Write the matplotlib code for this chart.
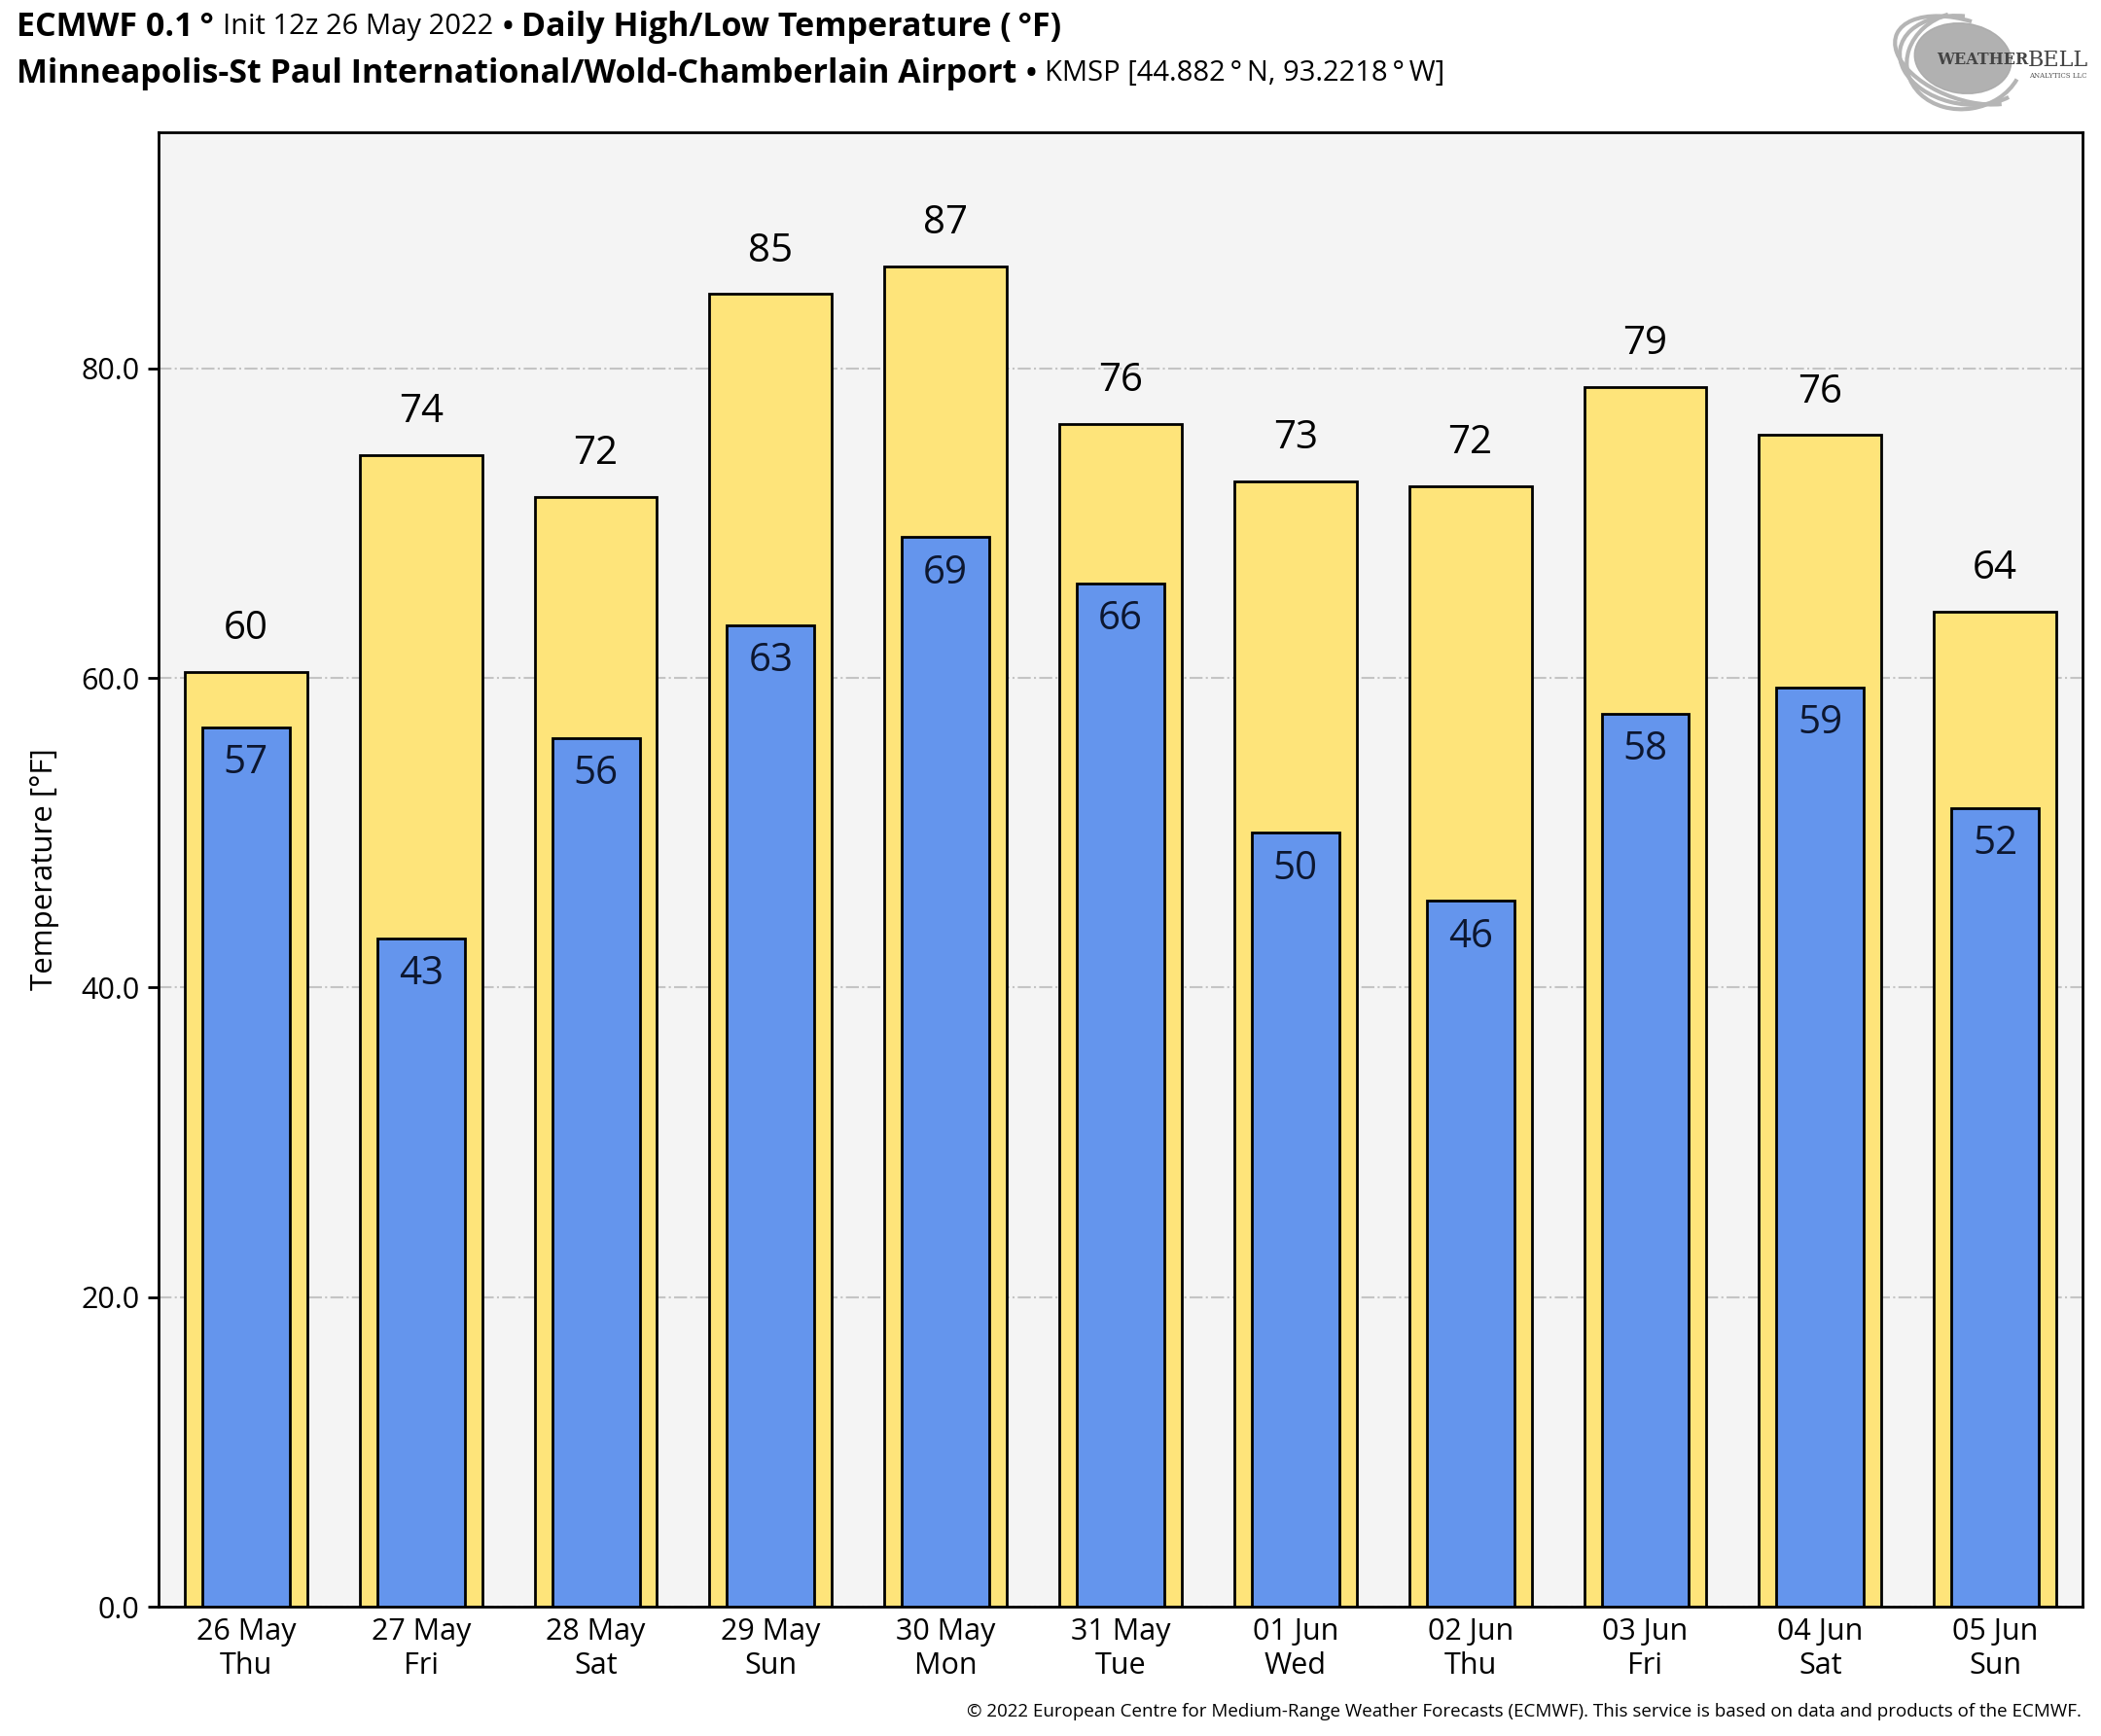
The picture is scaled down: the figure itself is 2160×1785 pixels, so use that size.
import matplotlib
matplotlib.use("Agg")
import matplotlib.pyplot as plt
from matplotlib.patches import Ellipse, Arc

days = ["26 May\nThu", "27 May\nFri", "28 May\nSat", "29 May\nSun", "30 May\nMon",
        "31 May\nTue", "01 Jun\nWed", "02 Jun\nThu", "03 Jun\nFri", "04 Jun\nSat",
        "05 Jun\nSun"]
highs = [60.4, 74.4, 71.7, 84.8, 86.6, 76.4, 72.7, 72.4, 78.8, 75.7, 64.3]
lows = [56.8, 43.2, 56.1, 63.4, 69.1, 66.1, 50.0, 45.6, 57.7, 59.4, 51.6]
yticks = [0, 20, 40, 60, 80]

plt.rcParams["font.family"] = ["Open Sans", "DejaVu Sans"]

W, H = 2160, 1785
fig = plt.figure(figsize=(W / 100, H / 100), dpi=100)
ax = fig.add_axes([163 / W, 1 - 1652 / H, (2141 - 163) / W, (1652 - 136) / H])
ax.set_facecolor("#f4f4f4")

x = list(range(len(days)))
ax.bar(x, highs, width=0.7, color="#fee47a", edgecolor="black", linewidth=2, zorder=2)
ax.bar(x, lows, width=0.5, color="#6495ed", edgecolor="black", linewidth=2, zorder=3)

for i in x:
    ax.annotate(f"{highs[i]:.0f}", (i, highs[i]), xytext=(0, 44), textcoords="offset pixels",
                ha="center", va="center", fontsize=29, zorder=4)
    ax.annotate(f"{lows[i]:.0f}", (i, lows[i]), xytext=(0, -37), textcoords="offset pixels",
                ha="center", va="center", fontsize=29, color="#0d1730", zorder=4)

ax.set_xlim(-0.5, len(days) - 0.5)
ax.set_ylim(0, max(highs) * 1.1)
ax.set_yticks(yticks)
ax.set_yticklabels([f"{v:.1f}" for v in yticks])
ax.set_xticks(x)
ax.set_xticklabels(days, linespacing=1.2)
ax.tick_params(axis="x", length=0, labelsize=22, pad=8)
ax.tick_params(axis="y", length=8, width=2, labelsize=22, pad=6)
ax.yaxis.grid(True, linestyle="-.", color="#c4c4c4", linewidth=1.5, zorder=1)
ax.set_axisbelow(True)
for sp in ax.spines.values():
    sp.set_linewidth(2)
ax.set_ylabel("Temperature [°F]", fontsize=22.5, labelpad=16)


def chain(y, parts):
    renderer = fig.canvas.get_renderer()
    xp = 17
    for s, weight, size in parts:
        t = fig.text(xp / W, y, s, fontsize=size, fontweight=weight, va="center", ha="left")
        xp += t.get_window_extent(renderer).width + 9


chain(1 - 28 / H, [("ECMWF 0.1\u2009°", "bold", 24.5), ("Init 12z 26 May 2022", "normal", 21),
                   ("•", "bold", 21), ("Daily High/Low Temperature (\u2009°F)", "bold", 24.5)])
chain(1 - 76 / H, [("Minneapolis-St Paul International/Wold-Chamberlain Airport", "bold", 24.5),
                   ("•", "bold", 21), ("KMSP [44.882\u2009°\u2009N, 93.2218\u2009°\u2009W]", "normal", 21)])

fig.text(2140 / W, 1 - 1760 / H,
         "© 2022 European Centre for Medium-Range Weather Forecasts (ECMWF). "
         "This service is based on data and products of the ECMWF.",
         fontsize=13.5, ha="right", va="center")

# logo
lg = fig.add_axes([1940 / W, 1 - 118 / H, 210 / W, 110 / H])
lg.set_xlim(0, 210)
lg.set_ylim(0, 110)
lg.axis("off")
lg.add_patch(Ellipse((78, 58), 100, 72, angle=-8, color="#a9a9a9", alpha=0.9))
for w, h, a in [(135, 90, -10), (120, 100, 10), (150, 80, -20)]:
    lg.add_patch(Arc((80, 56), w, h, angle=a, theta1=100, theta2=330, color="#b5b5b5", lw=3))
lg.text(145, 56, "WEATHER", fontsize=11.5, family="DejaVu Serif", color="#444444",
        va="center", ha="right", fontweight="bold")
lg.text(145, 56, "BELL", fontsize=16, family="DejaVu Serif", color="#444444",
        va="center", ha="left")
lg.text(205, 40, "ANALYTICS LLC", fontsize=5, family="DejaVu Serif", color="#555555",
        va="center", ha="right")

fig.savefig("out.png", dpi=100)
